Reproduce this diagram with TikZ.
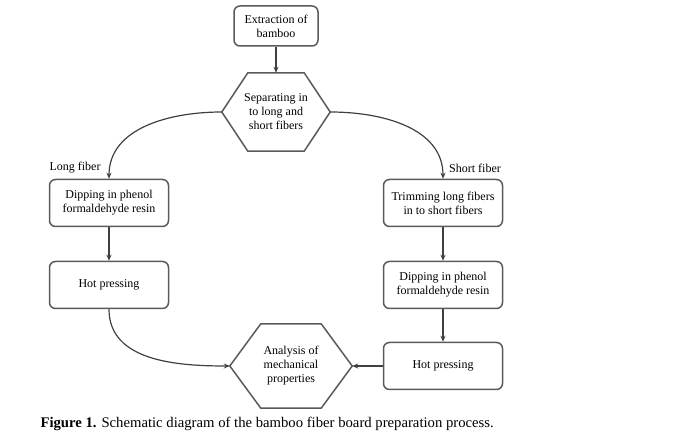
\documentclass[tikz,border=0pt]{standalone}
\usepackage{fontspec}
\setmainfont{Liberation Serif}
\usetikzlibrary{positioning, arrows.meta, calc}
\definecolor{lngray}{HTML}{404040}
\definecolor{bxgray}{HTML}{5A5A5A}

\begin{document}
\begin{tikzpicture}[x=1pt, y=1pt, font=\fontsize{12}{14}\selectfont,
    proc/.style={draw=bxgray, line width=1.5pt, rounded corners=6pt, align=center,
                 minimum width=119pt, minimum height=47pt, inner sep=2pt},
    hexa/.style={align=center, inner sep=0pt},
    hexline/.style={draw=bxgray, line width=1.5pt, line join=round},
    flow/.style={lngray, line width=1.2pt, -{Stealth[length=6pt, width=5pt]}}]
    \useasboundingbox (0,0) rectangle (693,438);
    \node[proc, minimum width=84pt, minimum height=40pt] (ext) at (276,412) {Extraction of\\bamboo};
    \node[hexa, minimum width=108pt, minimum height=78pt] (sep) at (276,326) {Separating in\\to long and\\short fibers};
    \node[proc] (dipl) at (109,235) {Dipping in phenol\\formaldehyde resin};
    \node[proc] (hotl) at (109,153) {Hot pressing};
    \node[proc] (trim) at (443,235) {Trimming long fibers\\in to short fibers};
    \node[proc] (dipr) at (443,153) {Dipping in phenol\\formaldehyde resin};
    \node[proc] (hotr) at (443,72) {Hot pressing};
    \node[hexa, minimum width=122pt, minimum height=84pt] (ana) at (291,72) {Analysis of\\mechanical\\properties};
    % hexagon outlines
    \draw[hexline] (sep.west) -- ($(sep.north west)+(26,0)$) -- ($(sep.north east)+(-26,0)$)
        -- (sep.east) -- ($(sep.south east)+(-26,0)$) -- ($(sep.south west)+(26,0)$) -- cycle;
    \draw[hexline] (ana.west) -- ($(ana.north west)+(31,0)$) -- ($(ana.north east)+(-31,0)$)
        -- (ana.east) -- ($(ana.south east)+(-31,0)$) -- ($(ana.south west)+(31,0)$) -- cycle;
    \node (lfib) at (75,270) {Long fiber};
    \node (sfib) at (475,270) {Short fiber};
    \draw[flow] (ext) -- (sep.north);
    \draw[flow] (sep.west) to[out=180, in=90] (dipl.north);
    \draw[flow] (sep.east) to[out=0, in=90] (trim.north);
    \draw[flow] (dipl) -- (hotl);
    \draw[flow] (trim) -- (dipr);
    \draw[flow] (dipr) -- (hotr);
    \draw[flow] (hotl.south) to[out=-90, in=180] (ana.west);
    \draw[flow] (hotr) -- (ana.east);
    \node[anchor=west, font=\fontsize{14.7}{17}\selectfont] (cap) at (37,14)
        {\textbf{Figure 1.} Schematic diagram of the bamboo fiber board preparation process.};
\end{tikzpicture}
\end{document}
